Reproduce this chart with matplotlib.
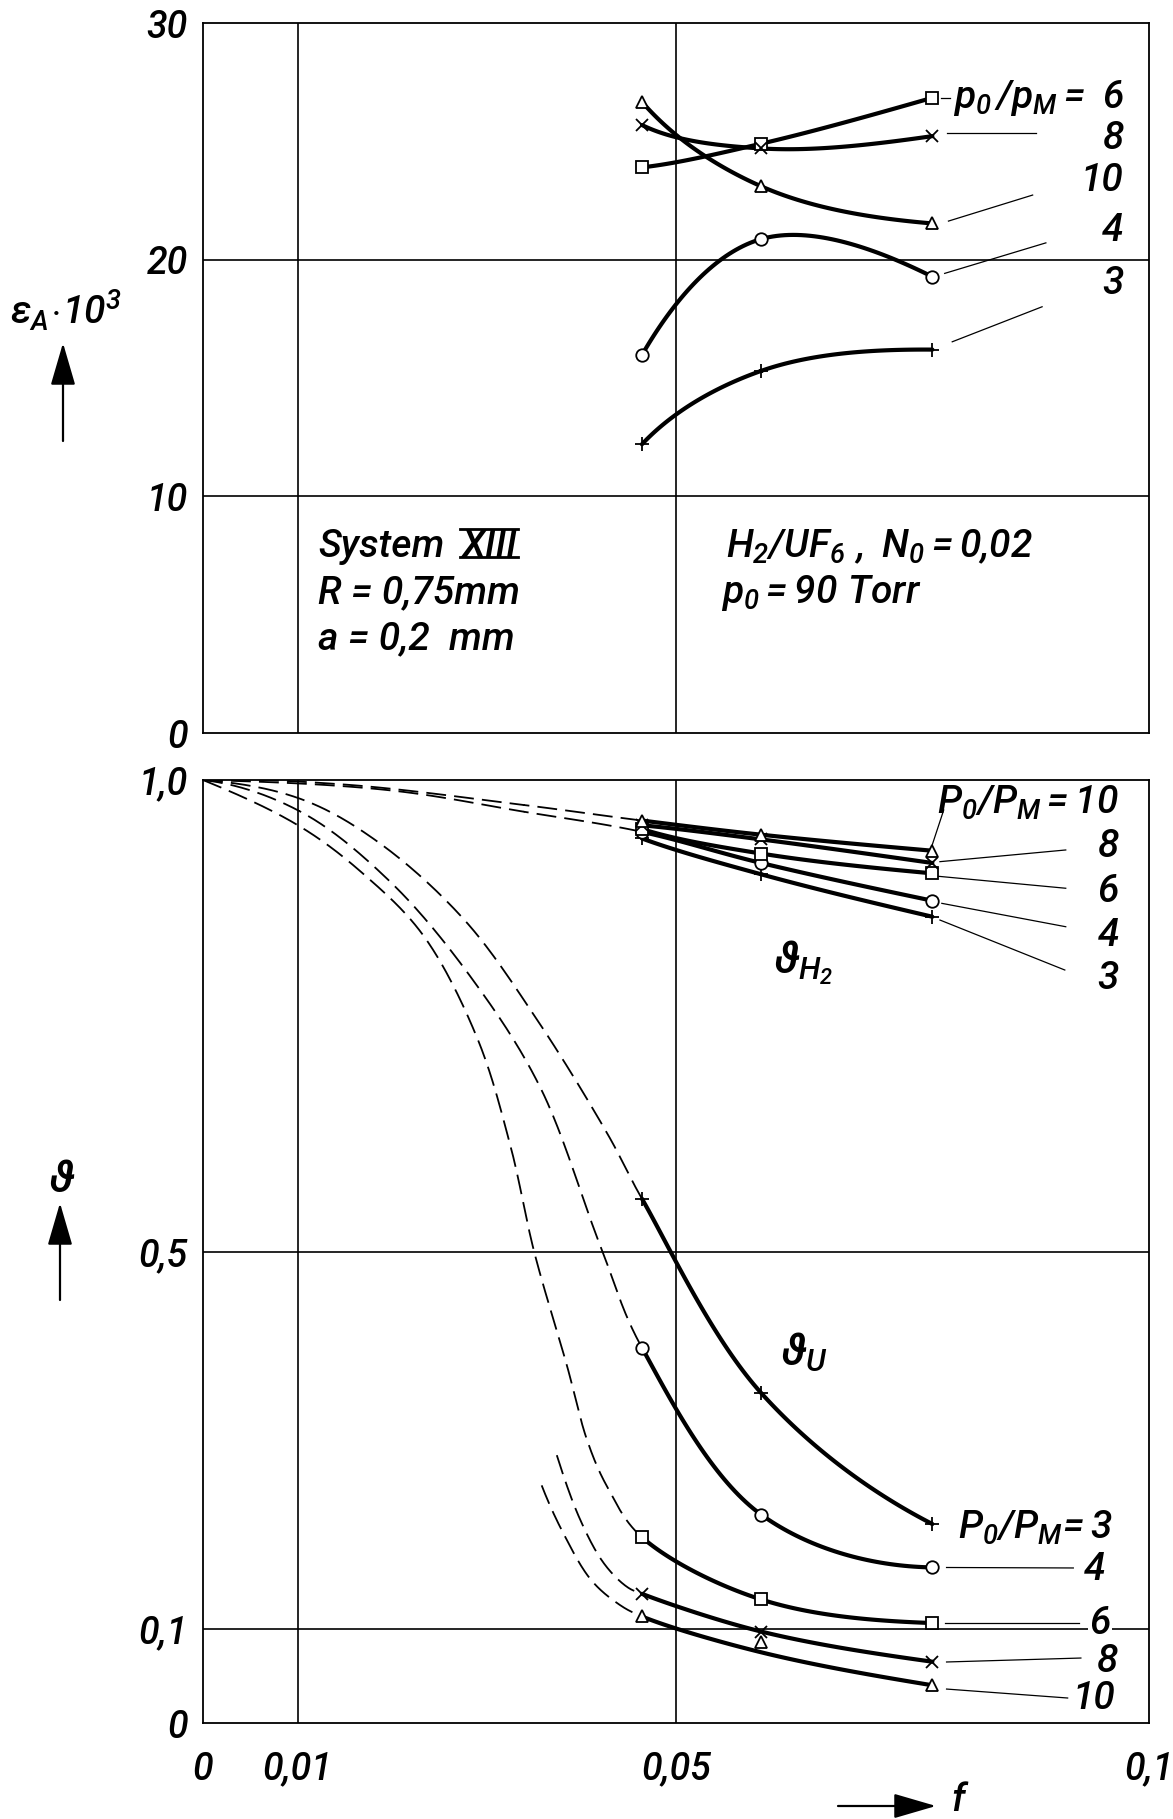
import numpy as np
import matplotlib
matplotlib.use("Agg")
import matplotlib.pyplot as plt
from matplotlib import font_manager as fm
from matplotlib.patches import FancyArrowPatch
from matplotlib.lines import Line2D

# ---------------- data ----------------
f_meas = [0.0464, 0.0590, 0.0771]

# upper panel: eps_A * 10^3 for p0/pM = 3, 4, 6, 8, 10
epsA_3 = [12.2, 15.3, 16.2]
epsA_4 = [15.97, 20.87, 19.28]
epsA_6 = [23.9, 24.9, 26.84]
epsA_8 = [25.69, 24.7, 25.22]
epsA_10 = [26.67, 23.1, 21.53]

# lower panel: theta_H2
thH2_3 = [0.938, 0.900, 0.855]
thH2_4 = [0.945, 0.912, 0.872]
thH2_6 = [0.948, 0.922, 0.901]
thH2_8 = [0.952, 0.937, 0.912]
thH2_10 = [0.957, 0.942, 0.925]

# lower panel: theta_U
thU_3 = [0.556, 0.350, 0.211]
thU_4 = [0.398, 0.221, 0.165]
thU_6 = [0.197, 0.131, 0.106]
thU_8 = [0.137, 0.097, 0.065]
thU_10 = [0.113, 0.086, 0.040]
thU_10_curve = [0.113, 0.075, 0.040]   # drawn curve runs below the middle point

# dashed extrapolations
dashU_3_f = [0.0, 0.0103, 0.0184, 0.0276, 0.0353, 0.0428]
dashU_3_y = [1.0, 0.980, 0.935, 0.852, 0.746, 0.624]
dashU_4_f = [0.0, 0.0102, 0.0198, 0.0286, 0.0357, 0.0420]
dashU_4_y = [1.0, 0.967, 0.892, 0.787, 0.673, 0.506]
dashU_6_f = [0.0, 0.0102, 0.0170, 0.0233, 0.0290, 0.0325, 0.0350, 0.0385, 0.0406, 0.0427]
dashU_6_y = [1.0, 0.951, 0.900, 0.835, 0.726, 0.612, 0.500, 0.378, 0.300, 0.251]
dashU_8_f = [0.0374, 0.0399, 0.0424, 0.0448]
dashU_8_y = [0.284, 0.215, 0.169, 0.1445]
dashU_10_f = [0.0358, 0.0381, 0.0410, 0.0438]
dashU_10_y = [0.252, 0.201, 0.152, 0.127]
dashH2_10_f = [0.0, 0.0152, 0.0339]
dashH2_10_y = [1.0, 0.995, 0.9735]
dashH2_4_f = [0.0, 0.0198, 0.0339]
dashH2_4_y = [1.0, 0.989, 0.9664]

x_ticks = [0, 0.01, 0.05, 0.1]
x_ticklabels = ["0", "0,01", "0,05", "0,1"]
yT_ticks = [0, 10, 20, 30]
yT_ticklabels = ["0", "10", "20", "30"]
yB_ticks = [0, 0.1, 0.5, 1.0]
yB_ticklabels = ["0", "0,1", "0,5", "1,0"]

# ---------------- fonts ----------------
names = {f.name for f in fm.fontManager.ttflist}
FONT = next((n for n in ["Liberation Sans Narrow", "DejaVu Sans Condensed",
                         "Roboto", "DejaVu Sans"] if n in names), "DejaVu Sans")
plt.rcParams["font.family"] = [FONT, "DejaVu Sans"]
plt.rcParams["font.style"] = "italic"
plt.rcParams["font.weight"] = "medium"
plt.rcParams["mathtext.fontset"] = "custom"
plt.rcParams["mathtext.rm"] = FONT + ":italic:medium"
plt.rcParams["mathtext.it"] = FONT + ":italic:medium"
plt.rcParams["mathtext.sf"] = FONT + ":italic:medium"
plt.rcParams["mathtext.bf"] = FONT + ":italic:bold"

W, H = 1173, 1819
fig = plt.figure(figsize=(W / 100, H / 100), dpi=100)
L, R = 203, 1149
axT = fig.add_axes([L / W, 1 - 733 / H, (R - L) / W, (733 - 23) / H])
axB = fig.add_axes([L / W, 1 - 1723 / H, (R - L) / W, (1723 - 780) / H])

TICK_FS = 27
for ax in (axT, axB):
    ax.set_xlim(0, 0.1)
    for s in ax.spines.values():
        s.set_linewidth(1.3)
    ax.tick_params(length=0, labelsize=TICK_FS, pad=11)
axT.set_ylim(0, 30)
axB.set_ylim(0, 1)
axT.set_xticks([])
axT.set_yticks(yT_ticks)
axT.set_yticklabels(yT_ticklabels)
axB.set_yticks(yB_ticks)
axB.set_yticklabels(yB_ticklabels)
axB.set_xticks(x_ticks)
axB.set_xticklabels(x_ticklabels)
axB.tick_params(axis="x", pad=20)

GL = dict(color="black", lw=1.2, zorder=1)
for ax in (axT, axB):
    ax.axvline(0.01, **GL)
    ax.axvline(0.05, **GL)
axT.axhline(10, **GL)
axT.axhline(20, **GL)
axB.axhline(0.1, **GL)
axB.axhline(0.5, **GL)


def cr_segments(x, y, sx, sy, n=40):
    """centripetal Catmull-Rom through the given points; one array per segment"""
    P = np.column_stack([np.asarray(x, float) / sx, np.asarray(y, float) / sy])
    if len(P) >= 3:
        first = 3 * P[0] - 3 * P[1] + P[2]
        last = 3 * P[-1] - 3 * P[-2] + P[-3]
    else:
        first, last = 2 * P[0] - P[1], 2 * P[-1] - P[-2]
    P = np.vstack([first, P, last])
    segs = []
    for i in range(1, len(P) - 2):
        p0, p1, p2, p3 = P[i - 1], P[i], P[i + 1], P[i + 2]
        t0 = 0.0
        t1 = t0 + max(np.linalg.norm(p1 - p0), 1e-9) ** 0.5
        t2 = t1 + max(np.linalg.norm(p2 - p1), 1e-9) ** 0.5
        t3 = t2 + max(np.linalg.norm(p3 - p2), 1e-9) ** 0.5
        t = np.linspace(t1, t2, n)[:, None]
        A1 = (t1 - t) / (t1 - t0) * p0 + (t - t0) / (t1 - t0) * p1
        A2 = (t2 - t) / (t2 - t1) * p1 + (t - t1) / (t2 - t1) * p2
        A3 = (t3 - t) / (t3 - t2) * p2 + (t - t2) / (t3 - t2) * p3
        B1 = (t2 - t) / (t2 - t0) * A1 + (t - t0) / (t2 - t0) * A2
        B2 = (t3 - t) / (t3 - t1) * A2 + (t - t1) / (t3 - t1) * A3
        C = (t2 - t) / (t2 - t1) * B1 + (t - t1) / (t2 - t1) * B2
        segs.append(C * np.array([sx, sy]))
    return segs


SOLID_LW = 3.0
DASH = dict(color="black", lw=1.3, linestyle=(0, (11, 4.5)), zorder=2)
MK = {"3": dict(marker="+", ms=10, mew=1.3, mfc="none"),
      "4": dict(marker="o", ms=9, mew=1.3, mfc="white"),
      "6": dict(marker="s", ms=8, mew=1.3, mfc="white"),
      "8": dict(marker="x", ms=8, mew=1.3, mfc="none"),
      "10": dict(marker="^", ms=8, mew=1.3, mfc="white")}


def draw(ax, sx, sy, yvals, key, dash_f=None, dash_y=None, curve=None):
    cy = curve if curve is not None else yvals
    if dash_f:
        xs = list(dash_f) + list(f_meas)
        ys = list(dash_y) + list(cy)
        k = len(dash_f)
    else:
        xs, ys, k = list(f_meas), list(cy), 0
    segs = cr_segments(xs, ys, sx, sy)
    if k:
        d = np.vstack(segs[:k])
        ax.plot(d[:, 0], d[:, 1], **DASH)
    s = np.vstack(segs[k:])
    ax.plot(s[:, 0], s[:, 1], color="black", lw=SOLID_LW, zorder=3,
            solid_capstyle="round")
    ax.plot(f_meas, yvals, ls="none", color="black", zorder=4, **MK[key])


sxT, syT = 0.1 / 946, 30 / 710
sxB, syB = 0.1 / 946, 1.0 / 943

draw(axT, sxT, syT, epsA_3, "3")
draw(axT, sxT, syT, epsA_4, "4")
draw(axT, sxT, syT, epsA_6, "6")
draw(axT, sxT, syT, epsA_8, "8")
draw(axT, sxT, syT, epsA_10, "10")

draw(axB, sxB, syB, thH2_3, "3")
draw(axB, sxB, syB, thH2_4, "4", dashH2_4_f, dashH2_4_y)
draw(axB, sxB, syB, thH2_6, "6")
draw(axB, sxB, syB, thH2_8, "8")
draw(axB, sxB, syB, thH2_10, "10", dashH2_10_f, dashH2_10_y)

draw(axB, sxB, syB, thU_3, "3", dashU_3_f, dashU_3_y)
draw(axB, sxB, syB, thU_4, "4", dashU_4_f, dashU_4_y)
draw(axB, sxB, syB, thU_6, "6", dashU_6_f, dashU_6_y)
draw(axB, sxB, syB, thU_8, "8", dashU_8_f, dashU_8_y)
draw(axB, sxB, syB, thU_10, "10", dashU_10_f, dashU_10_y, curve=thU_10_curve)

# ---------------- leaders and labels ----------------
LEAD = dict(color="black", lw=0.9, zorder=2)
LBL = 28

# upper panel
for (x0, y0), (x1, y1) in [((0.0780, 26.83), (0.0790, 26.83)),
                           ((0.0786, 25.36), (0.0881, 25.36)),
                           ((0.0788, 21.63), (0.0877, 22.73)),
                           ((0.0784, 19.42), (0.0891, 20.71)),
                           ((0.0792, 16.53), (0.0887, 18.01))]:
    axT.plot([x0, x1], [y0, y1], **LEAD)
axT.text(0.0793, 26.83, r"$p_0\,/p_M = \ 6$", fontsize=LBL, ha="left", va="center")
for txt, yy in [("8", 25.14), ("10", 23.36), ("4", 21.25), ("3", 19.0)]:
    axT.text(0.0973, yy, txt, fontsize=LBL, ha="right", va="center")

tS = axT.text(0.0122, 7.44, "System", fontsize=LBL, ha="left", va="baseline")
tX = axT.annotate("XIII", xy=(1, 0), xycoords=tS, xytext=(12, 0),
                  textcoords="offset points", fontsize=LBL, ha="left",
                  va="bottom")
axT.text(0.0122, 5.49, "R = 0,75mm", fontsize=LBL, ha="left", va="baseline")
axT.text(0.0122, 3.52, "a = 0,2  mm", fontsize=LBL, ha="left", va="baseline")
axT.text(0.0553, 7.44, r"$H_2/UF_6\ ,\ N_0 = 0{,}02$", fontsize=LBL,
         ha="left", va="baseline")
axT.text(0.0548, 5.49, r"$p_0 = 90\ Torr$", fontsize=LBL, ha="left",
         va="baseline")

# lower panel, theta_H2
for (x0, y0), (x1, y1) in [((0.0770, 0.9286), (0.0783, 0.9682)),
                           ((0.0779, 0.9134), (0.0912, 0.9258)),
                           ((0.0774, 0.8982), (0.0912, 0.8852)),
                           ((0.0781, 0.8692), (0.0912, 0.8444)),
                           ((0.0779, 0.8515), (0.0911, 0.7985))]:
    axB.plot([x0, x1], [y0, y1], **LEAD)
axB.text(0.0968, 0.9756, r"$P_0/P_M = 10$", fontsize=LBL, ha="right", va="center")
for txt, yy in [("8", 0.930), ("6", 0.882), ("4", 0.835), ("3", 0.789)]:
    axB.text(0.0968, yy, txt, fontsize=LBL, ha="right", va="center")
axB.text(0.0634, 0.806, r"$\vartheta_{H_2}$", fontsize=32, ha="center", va="center")

# lower panel, theta_U
for (x0, y0), (x1, y1) in [((0.0786, 0.1649), (0.0920, 0.1644)),
                           ((0.0784, 0.1060), (0.0926, 0.1060)),
                           ((0.0786, 0.0647), (0.0928, 0.0689)),
                           ((0.0786, 0.0360), (0.0914, 0.0265))]:
    axB.plot([x0, x1], [y0, y1], **LEAD)
axB.text(0.0962, 0.207, r"$P_0/P_M\!= 3$", fontsize=LBL, ha="right", va="center")
axB.text(0.0942, 0.163, "4", fontsize=LBL, ha="center", va="center")
axB.text(0.0948, 0.106, "6", fontsize=LBL, ha="center", va="center", zorder=5,
         bbox=dict(facecolor="white", edgecolor="none", pad=1))
axB.text(0.0955, 0.0657, "8", fontsize=LBL, ha="center", va="center")
axB.text(0.0942, 0.0265, "10", fontsize=LBL, ha="center", va="center")
axB.text(0.0635, 0.393, r"$\vartheta_U$", fontsize=32, ha="center", va="center")

# ---------------- axis labels with arrows ----------------
def fpx(x, y):
    return (x / W, 1 - y / H)


def arrow(x0, y0, x1, y1):
    fig.add_artist(FancyArrowPatch(fpx(x0, y0), fpx(x1, y1), transform=fig.transFigure,
                                   arrowstyle="-|>,head_length=1.2,head_width=0.35",
                                   mutation_scale=22, lw=1.6, color="black",
                                   shrinkA=0, shrinkB=0))


fig.text(*fpx(66, 310), r"$\varepsilon_A\!\cdot\!10^3$", fontsize=28, ha="center", va="center")
arrow(63, 441, 63, 343)
fig.text(*fpx(62, 1180), r"$\vartheta$", fontsize=32, ha="center", va="center")
arrow(60, 1300, 60, 1203)
arrow(838, 1806, 936, 1806)
fig.text(*fpx(958, 1800), "f", fontsize=28, ha="center", va="center")

# bars above and below the roman numeral
fig.canvas.draw()
bb = tX.get_window_extent(fig.canvas.get_renderer())
fs_px = LBL * 100 / 72
yb = bb.y0 + 0.21 * fs_px
yt = yb + 0.72 * fs_px
for yy in (yb, yt):
    fig.add_artist(Line2D([(bb.x0 - 1) / W, (bb.x1 + 1) / W], [yy / H, yy / H],
                          transform=fig.transFigure, color="black", lw=2.0))

fig.savefig("out.png", dpi=100, facecolor="white")
